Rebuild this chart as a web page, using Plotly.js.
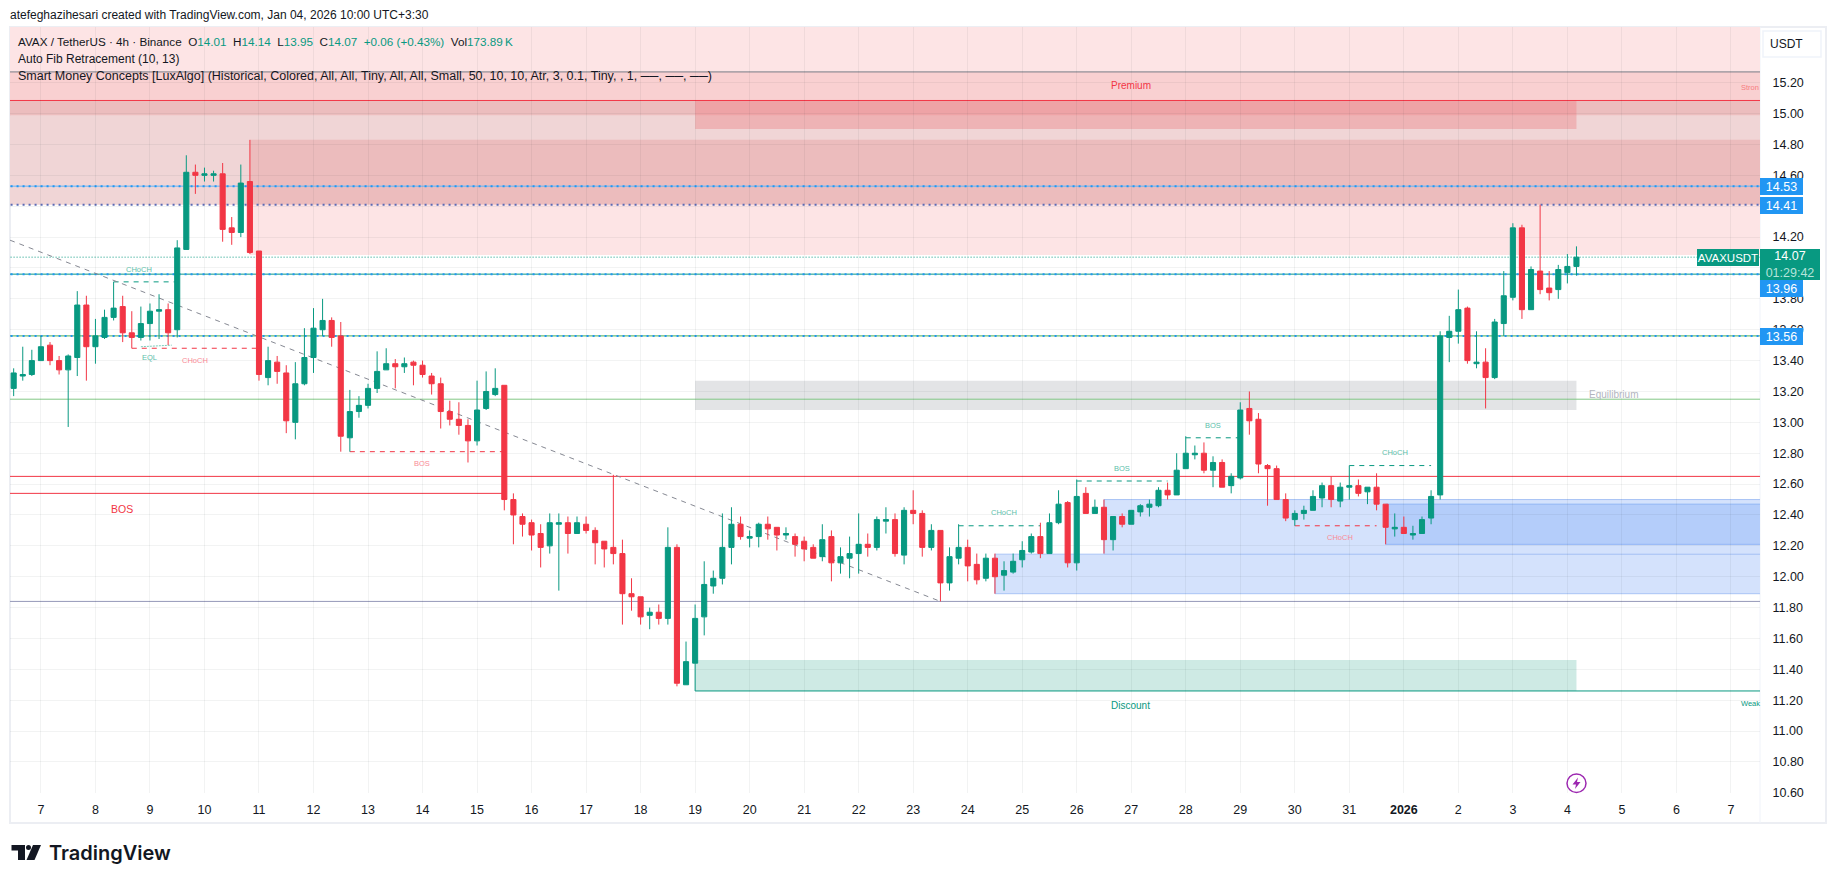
<!DOCTYPE html>
<html><head><meta charset="utf-8">
<script src="https://cdn.plot.ly/plotly-3.0.1.min.js"></script>
<style>html,body{margin:0;padding:0;background:#fff}#c{width:1835px;height:883px}</style></head>
<body><div id="c"></div>
<script>
// ---- candle data (one bar every 4 hours) ----
const open=[13.22,13.30,13.31,13.40,13.50,13.40,13.34,13.42,13.76,13.49,
13.55,13.68,13.75,13.58,13.55,13.64,13.72,13.73,13.60,14.12,
14.62,14.60,14.60,14.61,14.26,14.23,14.56,14.11,13.29,13.39,
13.32,13.00,13.25,13.42,13.60,13.66,13.56,12.90,13.07,13.11,
13.22,13.34,13.38,13.36,13.39,13.37,13.30,13.25,13.07,13.02,
12.98,12.88,13.09,13.18,13.24,12.50,12.39,12.35,12.28,12.20,
12.34,12.35,12.28,12.34,12.30,12.23,12.19,12.15,11.89,11.87,
11.75,11.77,11.73,12.19,11.30,11.44,11.74,11.94,11.99,12.19,
12.34,12.25,12.26,12.34,12.32,12.27,12.26,12.23,12.19,12.13,
12.26,12.09,12.12,12.15,12.21,12.19,12.36,12.37,12.14,12.43,
12.41,12.19,12.30,11.96,12.12,12.19,12.08,11.99,12.12,12.01,
12.03,12.11,12.16,12.26,12.15,12.35,12.48,12.09,12.54,12.41,
12.45,12.24,12.39,12.34,12.42,12.45,12.46,12.56,12.53,12.70,
12.79,12.80,12.69,12.74,12.59,12.64,13.09,13.02,12.72,12.70,
12.50,12.37,12.41,12.43,12.51,12.59,12.49,12.58,12.59,12.55,
12.58,12.47,12.31,12.32,12.27,12.28,12.38,12.53,13.55,13.59,
13.74,13.38,13.39,13.29,13.64,13.81,14.26,13.73,13.98,13.87,
13.86,13.97,14.01];
const close=[13.32,13.31,13.40,13.49,13.40,13.34,13.43,13.76,13.49,13.56,
13.68,13.74,13.58,13.55,13.64,13.72,13.73,13.58,14.13,14.62,
14.60,14.61,14.61,14.25,14.23,14.55,14.10,13.31,13.40,13.33,
13.01,13.25,13.42,13.61,13.66,13.55,12.91,13.07,13.11,13.22,
13.33,13.38,13.36,13.38,13.37,13.31,13.25,13.07,13.02,12.98,
12.88,13.08,13.20,13.22,12.50,12.40,12.34,12.27,12.19,12.35,
12.35,12.28,12.35,12.30,12.22,12.18,12.15,11.89,11.87,11.74,
11.77,11.73,12.19,11.31,11.45,11.73,11.95,11.99,12.19,12.34,
12.26,12.26,12.34,12.31,12.27,12.28,12.21,12.18,12.12,12.24,
12.09,12.13,12.15,12.21,12.19,12.37,12.37,12.15,12.43,12.41,
12.19,12.30,11.96,12.13,12.19,12.07,11.98,12.12,12.00,12.04,
12.10,12.17,12.26,12.15,12.35,12.47,12.09,12.52,12.41,12.45,
12.24,12.39,12.34,12.43,12.46,12.47,12.56,12.53,12.69,12.80,
12.80,12.69,12.74,12.58,12.65,13.08,13.01,12.73,12.70,12.50,
12.38,12.41,12.43,12.52,12.59,12.50,12.58,12.59,12.54,12.58,
12.47,12.32,12.32,12.28,12.28,12.37,12.52,13.56,13.59,13.73,
13.40,13.39,13.29,13.65,13.82,14.26,13.73,13.99,13.86,13.84,
13.99,14.01,14.07];
const high=[13.35,13.49,13.47,13.56,13.52,13.43,13.44,13.85,13.82,13.67,
13.73,13.91,13.82,13.72,13.75,13.77,13.83,13.77,14.18,14.73,
14.67,14.65,14.63,14.68,14.33,14.67,14.83,14.11,13.49,13.43,
13.37,13.39,13.61,13.74,13.80,13.68,13.65,13.21,13.17,13.25,
13.46,13.48,13.41,13.42,13.40,13.40,13.32,13.29,13.14,13.13,
13.02,13.27,13.33,13.35,13.24,12.54,12.41,12.37,12.34,12.41,
12.41,12.39,12.39,12.39,12.32,12.23,12.66,12.24,11.99,11.87,
11.80,11.82,12.32,12.21,11.58,11.82,12.10,12.04,12.41,12.45,
12.39,12.30,12.35,12.39,12.32,12.32,12.28,12.26,12.21,12.34,
12.30,12.19,12.26,12.41,12.28,12.39,12.45,12.41,12.45,12.56,
12.43,12.34,12.30,12.19,12.34,12.24,12.15,12.15,12.15,12.10,
12.15,12.23,12.28,12.35,12.41,12.56,12.49,12.63,12.58,12.50,
12.50,12.39,12.41,12.43,12.47,12.50,12.58,12.61,12.80,12.91,
12.85,12.87,12.78,12.76,12.67,13.13,13.20,13.06,12.73,12.72,
12.54,12.43,12.46,12.56,12.61,12.65,12.61,12.72,12.63,12.58,
12.67,12.47,12.41,12.39,12.33,12.39,12.56,13.59,13.69,13.86,
13.75,13.59,13.48,13.67,13.98,14.29,14.28,14.01,14.41,13.98,
14.02,14.09,14.14];
const low=[13.17,13.27,13.30,13.40,13.37,13.31,12.97,13.30,13.27,13.38,
13.54,13.66,13.52,13.48,13.53,13.53,13.54,13.50,13.55,14.12,
14.48,14.56,14.56,14.17,14.15,14.20,14.09,13.27,13.24,13.25,
12.93,12.89,13.24,13.32,13.56,13.49,12.81,12.81,13.03,13.09,
13.19,13.34,13.22,13.32,13.24,13.29,13.18,12.96,12.98,12.92,
12.74,12.85,13.08,13.17,12.43,12.21,12.26,12.17,12.06,12.15,
11.91,12.15,12.28,12.28,12.08,12.06,12.08,11.69,11.78,11.69,
11.66,11.69,11.69,11.29,11.30,11.26,11.62,11.89,11.95,12.08,
12.24,12.19,12.19,12.24,12.17,12.24,12.13,12.10,12.12,12.10,
11.97,12.02,11.99,12.02,12.13,12.17,12.28,12.13,12.08,12.34,
12.13,12.17,11.84,11.91,12.08,11.97,11.95,11.97,11.89,11.91,
12.02,12.06,12.15,12.12,12.15,12.34,12.06,12.04,12.41,12.41,
12.15,12.17,12.32,12.34,12.39,12.39,12.45,12.50,12.53,12.70,
12.76,12.67,12.58,12.58,12.54,12.63,12.92,12.67,12.46,12.50,
12.36,12.33,12.37,12.43,12.45,12.45,12.45,12.50,12.52,12.47,
12.43,12.21,12.26,12.28,12.24,12.28,12.34,12.50,13.39,13.51,
13.38,13.35,13.09,13.28,13.56,13.79,13.67,13.73,13.83,13.79,
13.80,13.90,13.95];

// ---- axis labels ----
const dayLabels=["7","8","9","10","11","12","13","14","15","16","17","18","19","20","21","22","23","24","25","26","27","28","29","30","31","2026","2","3","4","5","6","7"];
const priceTicks=[10.6,10.8,11.0,11.2,11.4,11.6,11.8,12.0,12.2,12.4,12.6,12.8,13.0,13.2,13.4,13.6,13.8,14.0,14.2,14.4,14.6,14.8,15.0,15.2];
const hiddenTickLabels=[14.0,14.4]; // fully covered by the price tags in the reference

// ---- indicator levels ----
const bandTop=[15.57,15.27,15.085,14.986,14.83,14.41];
const bandBottom=[15.27,15.085,14.986,14.41,14.41,14.084];
const bandStartBar=[-1,-1,-1,-1,26,26];
const rangeBoxStart=[75,75,75,75];
const rangeBoxEnd=[172,172,172,172];
const rangeBoxTop=[15.085,14.986,13.27,11.46];
const rangeBoxBottom=[14.986,14.90,13.08,11.26];
const orderBlockStart=[108,120,151];
const orderBlockTop=[12.146,12.50,12.47];
const orderBlockBottom=[11.89,12.146,12.21];
const swingLevels=[15.27,15.085,14.53,14.41,14.07,13.96,13.56,13.15,12.65,11.84];
const bosLevel=12.54, bosEndBar=54, weakLow=11.26;
const structPrice=[13.91,13.48,12.81,12.33,12.62,12.90,12.72,12.33];
const structStart=[11,13,37,104,117,129,147,141];
const structEnd=[18,27,54,113,127,135,156,150];
const structKind=["g","r","r","g","g","g","g","r"];
const fibLine=[14.18,11.84];
const fibBars=[-0.4,102];
const eqlPrice=[13.49,13.50];
const eqlBars=[14,17.4];
const hud=["14.53","14.41","13.96","13.56"];

const GREEN='#089981',RED='#F23645',BLUE='#2196f3',INK='#131722';
const FONT='"Liberation Sans",Arial,sans-serif';
const L=10,R=1760,T=27,B=793;
const px=x=>(x-L)/(R-L), py=y=>1-(y-T)/(B-T);
const t0=Date.UTC(2025,11,6,12);
const barDate=i=>new Date(t0+i*4*3600e3).toISOString().slice(0,19).replace('T',' ');
const bars=open.map((_,i)=>barDate(i));
const tickVals=dayLabels.map((_,i)=>barDate(3+6*i));
const tickText=dayLabels.map(s=>s==='2026'?'<b>2026</b>':s);
const FAR=193, NEAR=-1;

const shapes=[];
const add=o=>shapes.push(Object.assign({layer:'below',xref:'x',yref:'y',line:{width:0}},o));
const hline=(v,line,a,b)=>add({type:'line',x0:barDate(a===undefined?NEAR:a),x1:barDate(b===undefined?FAR:b),y0:v,y1:v,line});
const poly=pts=>'M'+pts.map(p=>px(p[0])+','+py(p[1])).join('L')+'Z';

// premium bands
const bandFill=['#fde4e5','#f9d0d1','#ecbdbe','#f0d5d6','#ecbcbd','#fde4e5'];
bandTop.forEach((t,i)=>add({type:'rect',x0:barDate(bandStartBar[i]),x1:barDate(FAR),y0:bandBottom[i],y1:t,fillcolor:bandFill[i]}));
// order blocks
const obFill=['#d4e2fc','#d4e2fc','#b4cdfa'];
orderBlockTop.forEach((t,i)=>add({type:'rect',x0:barDate(orderBlockStart[i]),x1:barDate(FAR),y0:orderBlockBottom[i],y1:t,fillcolor:obFill[i],line:{width:1,color:i==2?'#90b5f5':'#a9c4f5'}}));
// range boxes
const boxFill=['#eea3a6','#eeb3b5','#e3e4e6','#ceeae4'];
rangeBoxTop.forEach((t,i)=>add({type:'rect',x0:barDate(rangeBoxStart[i]),x1:barDate(rangeBoxEnd[i]),y0:rangeBoxBottom[i],y1:t,fillcolor:boxFill[i]}));
// price levels
const lvlStyle=[{c:'#787b86'},{c:RED},{c:'#64b5f6',d:BLUE},{c:null,d:'#5b6bb5'},{c:null,t:GREEN},{c:'#089981',d:BLUE},{c:'#4caf50',d:BLUE},{c:'#81c784'},{c:RED},{c:'#9598b8'}];
swingLevels.forEach((v,i)=>{
  const s=lvlStyle[i];
  if(s.c) hline(v,{color:s.c,width:1});
  if(s.d) hline(v,{color:s.d,width:2,dash:'2px,4px'});
  if(s.t) hline(v,{color:s.t,width:1,dash:'1px,2px'});
});
hline(bosLevel,{color:RED,width:1},NEAR,bosEndBar);
hline(weakLow,{color:GREEN,width:1},rangeBoxStart[3],FAR);
// structure dashes
structPrice.forEach((v,i)=>hline(v,{color:structKind[i]=='g'?GREEN:RED,width:1,dash:'5px,5px'},structStart[i],structEnd[i]));
add({type:'line',x0:barDate(eqlBars[0]),x1:barDate(eqlBars[1]),y0:eqlPrice[0],y1:eqlPrice[1],line:{color:'#7ccdbc',width:1,dash:'2px,1px'}});
add({type:'line',x0:barDate(fibBars[0]),x1:barDate(fibBars[1]),y0:fibLine[0],y1:fibLine[1],line:{color:'#868993',width:1,dash:'5px,5px'}});
// frame
add({type:'rect',xref:'paper',yref:'paper',x0:px(10),x1:px(1826),y0:py(823),y1:py(27),line:{color:'#eceef3',width:2},fillcolor:'rgba(0,0,0,0)'});
add({type:'line',xref:'paper',yref:'paper',x0:1,x1:1,y0:py(823),y1:py(27),line:{color:'#f0f3fa',width:1}});
// USDT button
shapes.push({type:'rect',layer:'above',xref:'paper',yref:'paper',x0:px(1763),x1:px(1821),y0:py(57),y1:py(31),line:{color:'#f0f3fa',width:1.5},fillcolor:'#fff'});
// lightning badge
shapes.push({type:'circle',layer:'above',xref:'paper',yref:'paper',x0:px(1567),x1:px(1586),y0:py(792.5),y1:py(774),line:{color:'#9c27b0',width:1.5},fillcolor:'#fff'});
shapes.push({type:'path',layer:'above',xref:'paper',yref:'paper',path:poly([[1578,777.5],[1572.5,784.5],[1576,784.5],[1575,789],[1580.5,782],[1577,782]]),fillcolor:'#9c27b0',line:{width:0}});
// TradingView mark
const tvColor='#131722';
[[[11.5,845],[25,845],[25,860],[18,860],[18,850.5],[11.5,850.5]],[[41,845],[34.5,860],[26.5,860],[33,845]]].forEach(p=>
  shapes.push({type:'path',layer:'above',xref:'paper',yref:'paper',path:poly(p),fillcolor:tvColor,line:{width:0}}));
shapes.push({type:'circle',layer:'above',xref:'paper',yref:'paper',x0:px(26),x1:px(31),y0:py(850),y1:py(845),fillcolor:tvColor,line:{width:0}});

const ann=[];
const lab=(text,x,y,size,color,anchor,extra)=>ann.push(Object.assign({text,xref:'paper',yref:'paper',x:px(x),y:py(y),xanchor:anchor||'center',yanchor:'middle',showarrow:false,font:{family:FONT,size,color},borderpad:0,borderwidth:0},extra||{}));
const up=s=>'<span style="color:#089981">'+s+'</span>';
lab('atefeghazihesari created with TradingView.com, Jan 04, 2026 10:00 UTC+3:30',10,15,12,INK,'left');
lab('AVAX / TetherUS · 4h · Binance  O'+up('14.01')+'  H'+up('14.14')+'  L'+up('13.95')+'  C'+up('14.07')+'  '+up('+0.06 (+0.43%)')+'  Vol'+up('173.89\u2009K'),18,41.5,11.7,INK,'left');
lab('Auto Fib Retracement (10, 13)',18,59,12,INK,'left');
lab('Smart Money Concepts [LuxAlgo] (Historical, Colored, All, All, Tiny, All, All, Small, 50, 10, 10, Atr, 3, 0.1, Tiny, , 1, ──, ──, ──)',18,76,12.5,INK,'left');
lab('USDT',1786,44.5,12,INK);
lab('TradingView',49,853,21,INK,'left',{font:{family:'Inter,'+FONT,size:20,color:INK,weight:600}});
// zone & structure captions
lab('Premium',1130.5,85,10,RED);
lab('Discount',1130.5,705.5,10,GREEN);
lab('Equilibrium',1613,395,10,'#b2b5be');
lab('Stron',1750,87.5,7.5,'#f77c80');
lab('Weak',1750,703,7.5,GREEN);
lab('BOS',122,509,10.5,RED);
const gt='#5cc0ab',rt='#f98a95';
[['CHoCH',139,269.5,gt],['EQL',149,357,gt],['CHoCH',194.5,360.5,rt],['BOS',421.5,463.5,rt],['CHoCH',1003.5,512.5,gt],['BOS',1122,468.5,gt],['BOS',1212.5,425.5,gt],['CHoCH',1394.5,452.5,gt],['CHoCH',1339.5,537.5,rt]]
 .forEach(a=>lab(a[0],a[1],a[2],7.5,a[3]));
// price tags
const hudY=[186.7,205.7,288.7,336.7];
hud.forEach((s,i)=>lab(s,1781.5,hudY[i],12.5,'#fff','center',{bgcolor:BLUE,width:43,height:17,align:'center',valign:'middle'}));
lab('AVAXUSDT',1728,257.5,11.5,'#fff','center',{bgcolor:GREEN,width:62,height:17,align:'center',valign:'middle'});
lab('14.07<br><span style="color:#b5e4da">01:29:42</span>',1790,264.5,12.5,'#fff','center',{bgcolor:GREEN,width:60,height:31,align:'center',valign:'middle'});

const trace={type:'candlestick',x:bars,open,high,low,close,whiskerwidth:0,hoverinfo:'skip',
  increasing:{line:{color:GREEN,width:1},fillcolor:GREEN},
  decreasing:{line:{color:RED,width:1},fillcolor:RED}};
const grid='rgba(42,46,57,0.06)';
Plotly.newPlot('c',[trace],{
  width:1835,height:883,showlegend:false,paper_bgcolor:'#fff',plot_bgcolor:'#fff',
  margin:{l:L,r:1835-R,t:T,b:883-B,pad:0},boxgap:0.2,
  font:{family:FONT,size:12.5,color:INK},
  xaxis:{type:'date',range:[barDate(-0.404),barDate(192.2)],rangeslider:{visible:false},tickmode:'array',tickvals:tickVals,ticktext:tickText,
    showgrid:true,gridcolor:grid,gridwidth:1,zeroline:false,showline:false,ticks:'outside',ticklen:5,tickcolor:'rgba(0,0,0,0)',tickfont:{size:12.5,color:INK},fixedrange:true},
  yaxis:{side:'right',range:[10.599,15.561],tickmode:'array',tickvals:priceTicks,ticktext:priceTicks.map(v=>hiddenTickLabels.includes(v)?'':v.toFixed(2)),
    showgrid:true,gridcolor:grid,gridwidth:1,zeroline:false,showline:false,ticks:'outside',ticklen:9,tickcolor:'rgba(0,0,0,0)',tickfont:{size:12.5,color:INK},fixedrange:true},
  shapes,annotations:ann,hovermode:false
},{displayModeBar:false,staticPlot:true});
</script></body></html>
